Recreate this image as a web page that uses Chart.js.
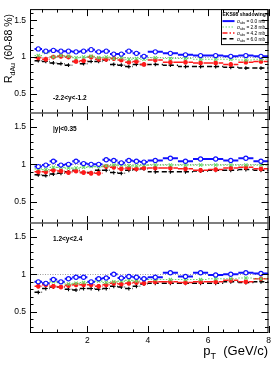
<!DOCTYPE html>
<html>
<head>
<meta charset="utf-8">
<script src="https://cdn.jsdelivr.net/npm/chart.js@4.4.0/dist/chart.umd.min.js"></script>
<style>
  html, body { margin: 0; padding: 0; background: #fff; }
  #wrap { width: 274px; height: 374px; }
</style>
</head>
<body>
<div id="wrap"><canvas id="chart" width="274" height="374"></canvas></div>
<script>
// pT bin edges (GeV/c): 0.25 wide up to 4, then 0.5 wide up to 8
const binEdges = [0.25, 0.5, 0.75, 1.0, 1.25, 1.5, 1.75, 2.0, 2.25, 2.5, 2.75, 3.0, 3.25, 3.5, 3.75, 4.0,
                  4.5, 5.0, 5.5, 6.0, 6.5, 7.0, 7.5, 8.0];

// -2.2<y<-1.2
const bwdSig00 = [1.11, 1.08, 1.09, 1.08, 1.08, 1.07, 1.08, 1.10, 1.07, 1.08, 1.04, 1.04, 1.08, 1.05, 1.01, 1.07, 1.05, 1.03, 1.02, 1.02, 1.01, 1.02, 1.01];
const bwdSig28 = [1.02, 1.06, 1.00, 1.02, 1.01, 0.99, 1.00, 1.01, 0.99, 1.00, 0.98, 0.99, 0.97, 0.98, 0.97, 0.99, 0.98, 0.98, 0.97, 0.97, 0.97, 0.96, 0.97];
const bwdSig42 = [0.99, 0.97, 1.00, 1.01, 1.00, 0.94, 0.95, 1.00, 0.97, 0.97, 0.98, 0.96, 0.93, 0.94, 0.90, 0.96, 0.93, 0.93, 0.92, 0.92, 0.90, 0.93, 0.94];
const bwdSig60 = [0.95, 0.94, 0.92, 0.91, 0.89, 0.94, 0.91, 0.94, 0.94, 0.96, 0.90, 0.89, 0.87, 0.90, 0.90, 0.90, 0.89, 0.87, 0.87, 0.87, 0.86, 0.85, 0.85];

// |y|<0.35
const midSig00 = [0.97, 0.99, 1.04, 0.99, 1.00, 1.04, 1.01, 1.00, 1.00, 1.06, 1.05, 1.02, 1.05, 1.04, 1.03, 1.05, 1.08, 1.04, 1.07, 1.07, 1.05, 1.08, 1.04];
const midSig28 = [0.94, 0.93, 0.96, 0.96, 0.95, 0.95, 0.96, 0.97, 0.97, 0.98, 0.99, 0.99, 0.98, 0.98, 0.99, 0.99, 0.99, 0.99, 0.99, 0.99, 0.99, 0.99, 0.99];
const midSig42 = [0.90, 0.90, 0.92, 0.91, 0.89, 0.91, 0.89, 0.88, 0.88, 0.97, 0.96, 0.94, 0.95, 0.94, 0.95, 0.95, 0.95, 0.94, 0.92, 0.93, 0.95, 0.96, 0.94];
const midSig60 = [0.86, 0.85, 0.87, 0.88, 0.90, 0.92, 0.89, 0.89, 0.92, 0.92, 0.89, 0.88, 0.92, 0.93, 0.94, 0.90, 0.90, 0.90, 0.91, 0.92, 0.92, 0.93, 0.92];

// 1.2<y<2.4
const fwdSig00 = [0.90, 0.88, 0.93, 0.90, 0.94, 0.96, 0.96, 0.90, 0.94, 0.95, 1.00, 0.95, 0.97, 0.96, 0.94, 0.96, 1.02, 0.97, 1.02, 0.99, 1.00, 1.02, 1.01];
const fwdSig28 = [0.90, 0.88, 0.90, 0.89, 0.87, 0.88, 0.89, 0.90, 0.91, 0.89, 0.90, 0.91, 0.92, 0.91, 0.93, 0.93, 0.93, 0.93, 0.93, 0.94, 0.94, 0.95, 0.94];
const fwdSig42 = [0.84, 0.86, 0.84, 0.83, 0.85, 0.86, 0.86, 0.86, 0.84, 0.86, 0.88, 0.87, 0.88, 0.89, 0.88, 0.90, 0.90, 0.89, 0.90, 0.90, 0.92, 0.90, 0.94];
const fwdSig60 = [0.76, 0.81, 0.83, 0.83, 0.80, 0.79, 0.81, 0.81, 0.80, 0.81, 0.84, 0.83, 0.81, 0.84, 0.87, 0.88, 0.88, 0.88, 0.88, 0.88, 0.90, 0.89, 0.90];

const sigmaLabels = ['0.0', '2.8', '4.2', '6.0'];
const yTickValues = [0.5, 1, 1.5];
const xTickValues = [2, 4, 6, 8];

const FONT = "'Liberation Sans', Arial, sans-serif";

const panels = [
  { id: 'yBwd', label: '-2.2<y<-1.2', min: 0.24, max: 1.65, weight: 3, h: 104, series: [bwdSig00, bwdSig28, bwdSig42, bwdSig60] },
  { id: 'yMid', label: '|y|<0.35',    min: 0.22, max: 1.68, weight: 2, h: 110, series: [midSig00, midSig28, midSig42, midSig60] },
  { id: 'yFwd', label: '1.2<y<2.4',   min: 0.22, max: 1.68, weight: 1, h: 110, series: [fwdSig00, fwdSig28, fwdSig42, fwdSig60] }
];

const styles = [
  { color: '#1010ff', dash: [],             width: 2,   point: 'circle',   radius: 2.1, pw: 1.1 },
  { color: '#66d866', dash: [1.5, 1.5],     width: 1.2, point: 'crossRot', radius: 2.3, pw: 1.1 },
  { color: '#ff1a1a', dash: [5, 2, 1.5, 2], width: 1.5, point: 'star',     radius: 2.4, pw: 1.5 },
  { color: '#000000', dash: [4, 3],         width: 1.5, point: 'cross',    radius: 1.9, pw: 1.1 }
];

const binCenters = binEdges.slice(0, -1).map((e, i) => (e + binEdges[i + 1]) / 2);

const datasets = [];
panels.forEach(p => {
  p.series.forEach((vals, s) => {
    const st = styles[s];
    // horizontal bin-width bars, broken between bins
    const steps = [];
    vals.forEach((v, i) => {
      steps.push({ x: binEdges[i], y: v }, { x: binEdges[i + 1], y: v }, { x: binEdges[i + 1], y: null });
    });
    datasets.push({
      data: steps, yAxisID: p.id, showLine: true, spanGaps: false,
      borderColor: st.color, borderWidth: st.width, borderDash: st.dash,
      pointRadius: 0, order: 10 + s
    });
    datasets.push({
      data: vals.map((v, i) => ({ x: binCenters[i], y: v })), yAxisID: p.id,
      pointStyle: st.point, pointRadius: st.radius, pointBorderWidth: st.pw,
      pointBorderColor: st.color, pointBackgroundColor: s === 0 ? '#ffffff' : st.color,
      order: s
    });
  });
});

const scales = {
  x: {
    type: 'linear', position: 'bottom', min: 0.1, max: 8,
    afterBuildTicks: sc => { sc.ticks = xTickValues.map(v => ({ value: v })); },
    afterFit: sc => { sc.height = 41; },
    ticks: { font: { family: FONT, size: 8.5 }, color: '#000', padding: 3, maxRotation: 0, autoSkip: false, callback: v => String(v) },
    grid: { display: false, drawTicks: false },
    border: { display: false }
  }
};
panels.forEach(p => {
  scales[p.id] = {
    type: 'linear', position: 'left', stack: 'panels', stackWeight: p.h, weight: p.weight,
    min: p.min, max: p.max,
    afterBuildTicks: sc => { sc.ticks = yTickValues.map(v => ({ value: v })); },
    afterFit: sc => { sc.width = 30; },
    ticks: { font: { family: FONT, size: 8.5 }, color: '#000', padding: 4, autoSkip: false, callback: v => String(v) },
    grid: { display: false, drawTicks: false },
    border: { display: false }
  };
});

function seg(ctx, x1, y1, x2, y2) {
  ctx.beginPath(); ctx.moveTo(x1, y1); ctx.lineTo(x2, y2); ctx.stroke();
}

// draws text with a subscript; returns the width
function subText(ctx, parts, x, y, measureOnly) {
  let w = 0;
  parts.forEach(pt => {
    ctx.font = pt.font;
    if (!measureOnly) ctx.fillText(pt.t, x + w, y + (pt.dy || 0));
    w += ctx.measureText(pt.t).width;
  });
  return w;
}

const rootStyle = {
  id: 'rootStyle',
  beforeDatasetsDraw(chart) {
    const ctx = chart.ctx, a = chart.chartArea;
    ctx.save();
    ctx.strokeStyle = '#999'; ctx.lineWidth = 1; ctx.setLineDash([1, 1.5]);
    panels.forEach(p => {
      const y1 = Math.round(chart.scales[p.id].getPixelForValue(1)) + 0.5;
      seg(ctx, a.left, y1, a.right, y1);
    });
    ctx.restore();
  },
  afterDatasetsDraw(chart) {
    const ctx = chart.ctx, a = chart.chartArea, xs = chart.scales.x;
    const L = a.left, R = a.right;
    ctx.save();
    ctx.setLineDash([]);
    ctx.strokeStyle = '#000'; ctx.fillStyle = '#000'; ctx.lineWidth = 1;

    // legend box (drawn first so the axis ticks sit on top, as in ROOT)
    const lx = 221, ly = a.top, lw = R - lx, lh = 36;
    ctx.fillStyle = '#fff';
    ctx.fillRect(lx, ly, lw, lh);
    ctx.strokeRect(lx + 0.5, ly + 0.5, lw - 1, lh - 1);
    ctx.fillStyle = '#000';
    ctx.textBaseline = 'alphabetic';
    ctx.textAlign = 'left';
    ctx.font = 'bold 5px ' + FONT;
    ctx.fillText('EKS98 shadowing+', lx + 1.5, ly + 6.5);
    sigmaLabels.forEach((s, i) => {
      const st = styles[i];
      const ey = ly + 12 + i * 5.9;
      ctx.strokeStyle = st.color; ctx.lineWidth = st.width; ctx.setLineDash(st.dash);
      seg(ctx, lx + 1.5, ey, lx + 13.5, ey);
      ctx.setLineDash([]);
      ctx.fillStyle = '#000';
      subText(ctx, [
        { t: 'σ', font: '4.8px ' + FONT },
        { t: 'abs', font: '3.2px ' + FONT, dy: 1.2 },
        { t: ' = ' + s + ' mb', font: '4.8px ' + FONT }
      ], lx + 16, ey + 1.8);
    });
    ctx.strokeStyle = '#000'; ctx.lineWidth = 1;

    panels.forEach((p, k) => {
      const ys = chart.scales[p.id];
      const T = ys.top, B = ys.bottom;
      // y ticks, left and right
      for (let v = Math.ceil(p.min * 10) / 10; v <= p.max + 1e-6; v = Math.round((v + 0.1) * 10) / 10) {
        const yy = Math.round(ys.getPixelForValue(v)) + 0.5;
        const len = Math.abs(v * 2 - Math.round(v * 2)) < 1e-6 ? 7 : 3.5;
        seg(ctx, L, yy, L + len, yy);
        seg(ctx, R - len, yy, R, yy);
      }
      // x ticks, top and bottom
      for (let v = 0.5; v <= 8 + 1e-6; v += 0.5) {
        const xx = Math.round(xs.getPixelForValue(v)) + 0.5;
        const len = v % 2 === 0 ? 7 : 3.5;
        seg(ctx, xx, B, xx, B - len);
        seg(ctx, xx, T, xx, T + len);
      }
      // panel label
      ctx.font = 'bold 6.5px ' + FONT;
      ctx.textBaseline = 'middle';
      ctx.textAlign = 'left';
      ctx.fillText(p.label, 53, T + (k === 0 ? 89 : 16));
    });

    // frames
    ctx.lineWidth = 1;
    ctx.strokeRect(L + 0.5, a.top + 0.5, R - L - 1, a.bottom - a.top - 1);
    ctx.strokeStyle = '#555'; ctx.lineWidth = 1.6;
    panels.slice(1).forEach(p => {
      const yy = chart.scales[p.id].top;
      seg(ctx, L, yy, R, yy);
    });

    // x title
    ctx.fillStyle = '#000';
    ctx.textBaseline = 'alphabetic';
    const xParts = [
      { t: 'p', font: '13px ' + FONT },
      { t: 'T', font: '9px ' + FONT, dy: 4 },
      { t: '  (GeV/c)', font: '13px ' + FONT }
    ];
    const xw = subText(ctx, xParts, 0, 0, true);
    subText(ctx, xParts, 268 - xw, 355);

    // y title
    const yParts = [
      { t: 'R', font: '10.5px ' + FONT },
      { t: 'dAu', font: '7px ' + FONT, dy: 2.5 },
      { t: ' (60-88 %)', font: '10.5px ' + FONT }
    ];
    const yw = subText(ctx, yParts, 0, 0, true);
    ctx.translate(12, 14);
    ctx.rotate(-Math.PI / 2);
    subText(ctx, yParts, -yw, 0);
    ctx.restore();
  }
};

new Chart(document.getElementById('chart'), {
  type: 'scatter',
  data: { datasets },
  options: {
    responsive: false,
    animation: false,
    layout: { padding: { left: 0, right: 5, top: 9, bottom: 0 } },
    plugins: { legend: { display: false }, tooltip: { enabled: false } },
    scales
  },
  plugins: [rootStyle]
});
</script>
</body>
</html>
